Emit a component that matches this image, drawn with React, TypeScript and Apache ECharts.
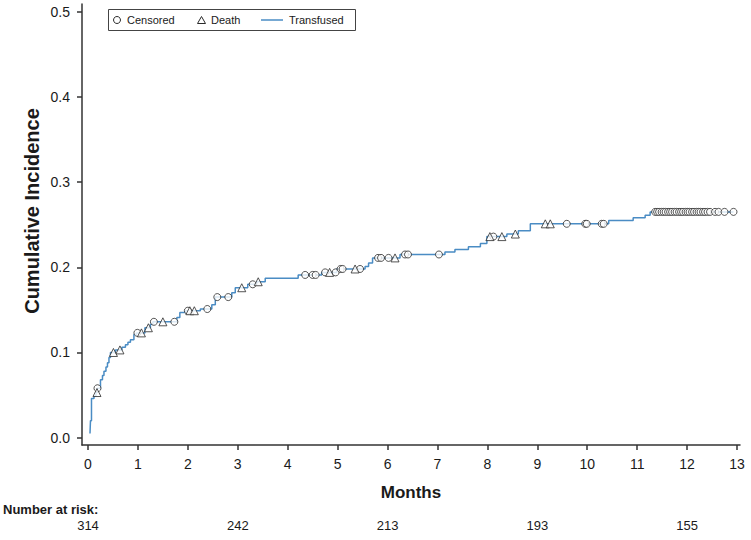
import React, { useEffect, useRef } from "react";
import * as echarts from "echarts";

// Step function of cumulative incidence (event time, value after the event)
const stepTimes = [
  0.04, 0.05, 0.07, 0.12, 0.16, 0.185, 0.25, 0.29, 0.32, 0.36, 0.39, 0.42, 0.45,
  0.55, 0.68, 0.75, 0.8, 0.85, 0.92, 0.97, 1.14, 1.25, 1.3, 1.78, 1.84, 1.95,
  2.25, 2.48, 2.55, 2.88, 2.95, 3.2, 3.38, 3.55, 4.21, 4.68, 4.98, 5.55, 5.62,
  5.7, 6.25, 7.15, 7.35, 7.62, 7.86, 7.99, 8.39, 8.62, 8.86, 10.43, 10.92,
  11.16, 11.26, 12.93,
];
const stepValues = [
  0.005, 0.02, 0.046, 0.049, 0.053, 0.058, 0.068, 0.073, 0.078, 0.083, 0.088,
  0.094, 0.1, 0.103, 0.106, 0.109, 0.112, 0.115, 0.121, 0.123, 0.129, 0.133,
  0.136, 0.141, 0.147, 0.149, 0.151, 0.156, 0.165, 0.17, 0.176, 0.18, 0.183,
  0.187, 0.191, 0.194, 0.198, 0.201, 0.205, 0.211, 0.215, 0.218, 0.221, 0.224,
  0.228, 0.236, 0.239, 0.243, 0.251, 0.255, 0.258, 0.261, 0.265, 0.265,
];

// Censored observation times
const censorTimes = [
  0.19, 0.99, 1.32, 1.73, 2.0, 2.39, 2.59, 2.81, 3.3, 4.35, 4.5, 4.56, 4.75,
  4.96, 5.06, 5.1, 5.45, 5.81, 5.87, 6.02, 6.35, 6.41, 7.03, 8.12, 9.59, 9.96,
  9.99, 10.29, 10.33, 11.36, 11.4, 11.44, 11.49, 11.53, 11.57, 11.62, 11.66,
  11.7, 11.75, 11.79, 11.84, 11.88, 11.92, 11.97, 12.01, 12.05, 12.1, 12.14,
  12.19, 12.23, 12.27, 12.32, 12.36, 12.41, 12.46, 12.56, 12.63, 12.75, 12.93,
];

// Death (competing event) times
const deathTimes = [
  0.18, 0.51, 0.64, 1.07, 1.21, 1.5, 2.04, 2.13, 3.08, 3.41, 4.84, 5.35, 6.15,
  8.05, 8.29, 8.56, 9.16, 9.26,
];

const xTicks = [0, 1, 2, 3, 4, 5, 6, 7, 8, 9, 10, 11, 12, 13];
const yTicks = [0, 0.1, 0.2, 0.3, 0.4, 0.5];
const riskTimes = [0, 3, 6, 9, 12];
const riskCounts = [314, 242, 213, 193, 155];

const FONT = 'Arial, "Liberation Sans", Helvetica, sans-serif';
const LINE_COLOR = "#4a8cc4";
const AXIS_COLOR = "#333";
const TEXT_COLOR = "#1a1a1a";

function valueAt(t: number): number {
  let v = 0;
  for (let i = 0; i < stepTimes.length; i++) {
    if (stepTimes[i] <= t) v = stepValues[i];
  }
  return v;
}

export default function App() {
  const ref = useRef<HTMLDivElement>(null);

  useEffect(() => {
    if (!ref.current) return;
    const chart = echarts.init(ref.current, null, { renderer: "svg" });

    const axisLineStyle = { color: AXIS_COLOR, width: 1.5 };
    const markerStyle = { color: "#fff", borderColor: "#2a2a2a", borderWidth: 1 };

    chart.setOption({
      animation: false,
      backgroundColor: "#fff",
      textStyle: { fontFamily: FONT },
      grid: { left: 82, right: 11, top: 4, bottom: 95 },
      xAxis: {
        type: "value",
        min: -0.12,
        max: 13.06,
        axisLine: { show: true, onZero: false, lineStyle: axisLineStyle },
        axisTick: { show: true, length: 5, customValues: xTicks, lineStyle: axisLineStyle },
        axisLabel: {
          customValues: xTicks,
          fontSize: 14,
          color: TEXT_COLOR,
          margin: 12,
          fontFamily: FONT,
        },
        splitLine: { show: false },
        name: "Months",
        nameLocation: "middle",
        nameGap: 39,
        nameTextStyle: { fontSize: 17, fontWeight: "bold", color: TEXT_COLOR, fontFamily: FONT },
      },
      yAxis: {
        type: "value",
        min: -0.0086,
        max: 0.509,
        axisLine: { show: true, onZero: false, lineStyle: axisLineStyle },
        axisTick: { show: true, length: 5, customValues: yTicks, lineStyle: axisLineStyle },
        axisLabel: {
          customValues: yTicks,
          formatter: (v: number) => v.toFixed(1),
          fontSize: 14,
          color: TEXT_COLOR,
          margin: 12,
          fontFamily: FONT,
        },
        splitLine: { show: false },
      },
      series: [
        {
          name: "Transfused",
          type: "line",
          step: "end",
          symbol: "none",
          lineStyle: { color: LINE_COLOR, width: 1.5 },
          data: stepTimes.map((t, i) => [t, stepValues[i]]),
          z: 2,
        },
        {
          name: "Censored",
          type: "scatter",
          symbol: "circle",
          symbolSize: 7,
          itemStyle: markerStyle,
          data: censorTimes.map((t) => [t, valueAt(t)]),
          z: 4,
        },
        {
          name: "Death",
          type: "scatter",
          symbol: "triangle",
          symbolSize: 8,
          itemStyle: markerStyle,
          data: deathTimes.map((t) => [t, valueAt(t)]),
          z: 5,
        },
      ],
    });

    const riskY = 525;
    const riskGraphics = riskTimes.map((t, i) => {
      const px = chart.convertToPixel({ xAxisIndex: 0 }, t) as number;
      return {
        type: "text",
        x: px,
        y: riskY,
        style: {
          text: String(riskCounts[i]),
          fill: TEXT_COLOR,
          font: `13px ${FONT}`,
          textAlign: "center",
          textVerticalAlign: "middle",
        },
      };
    });

    const legendY = 20.5;
    chart.setOption({
      graphic: [
        {
          type: "text",
          x: 32,
          y: 211,
          rotation: Math.PI / 2,
          style: {
            text: "Cumulative Incidence",
            fill: TEXT_COLOR,
            font: `bold 20px ${FONT}`,
            textAlign: "center",
            textVerticalAlign: "middle",
          },
        },
        {
          type: "rect",
          shape: { x: 108.5, y: 9.5, width: 247, height: 21 },
          style: { fill: "#fff", stroke: "#444", lineWidth: 1 },
          z: 10,
        },
        {
          type: "circle",
          shape: { cx: 117, cy: legendY - 0.5, r: 3.5 },
          style: { fill: "#fff", stroke: "#2a2a2a", lineWidth: 1 },
          z: 11,
        },
        {
          type: "text",
          x: 127,
          y: legendY - 0.5,
          style: { text: "Censored", fill: TEXT_COLOR, font: `11px ${FONT}`, textVerticalAlign: "middle" },
          z: 11,
        },
        {
          type: "polygon",
          shape: { points: [[197.5, 23.5], [205.5, 23.5], [201.5, 16.5]] },
          style: { fill: "#fff", stroke: "#2a2a2a", lineWidth: 1 },
          z: 11,
        },
        {
          type: "text",
          x: 211,
          y: legendY - 0.5,
          style: { text: "Death", fill: TEXT_COLOR, font: `11px ${FONT}`, textVerticalAlign: "middle" },
          z: 11,
        },
        {
          type: "line",
          shape: { x1: 261, y1: legendY - 0.5, x2: 283, y2: legendY - 0.5 },
          style: { stroke: LINE_COLOR, lineWidth: 1.5 },
          z: 11,
        },
        {
          type: "text",
          x: 289,
          y: legendY - 0.5,
          style: { text: "Transfused", fill: TEXT_COLOR, font: `11px ${FONT}`, textVerticalAlign: "middle" },
          z: 11,
        },
        {
          type: "text",
          x: 3,
          y: 509,
          style: {
            text: "Number at risk:",
            fill: TEXT_COLOR,
            font: `bold 13px ${FONT}`,
            textVerticalAlign: "middle",
          },
        },
        ...riskGraphics,
      ],
    });

    return () => chart.dispose();
  }, []);

  return (
    <div
      ref={ref}
      style={{ position: "absolute", left: 0, top: 0, width: 751, height: 540, background: "#fff" }}
    />
  );
}
